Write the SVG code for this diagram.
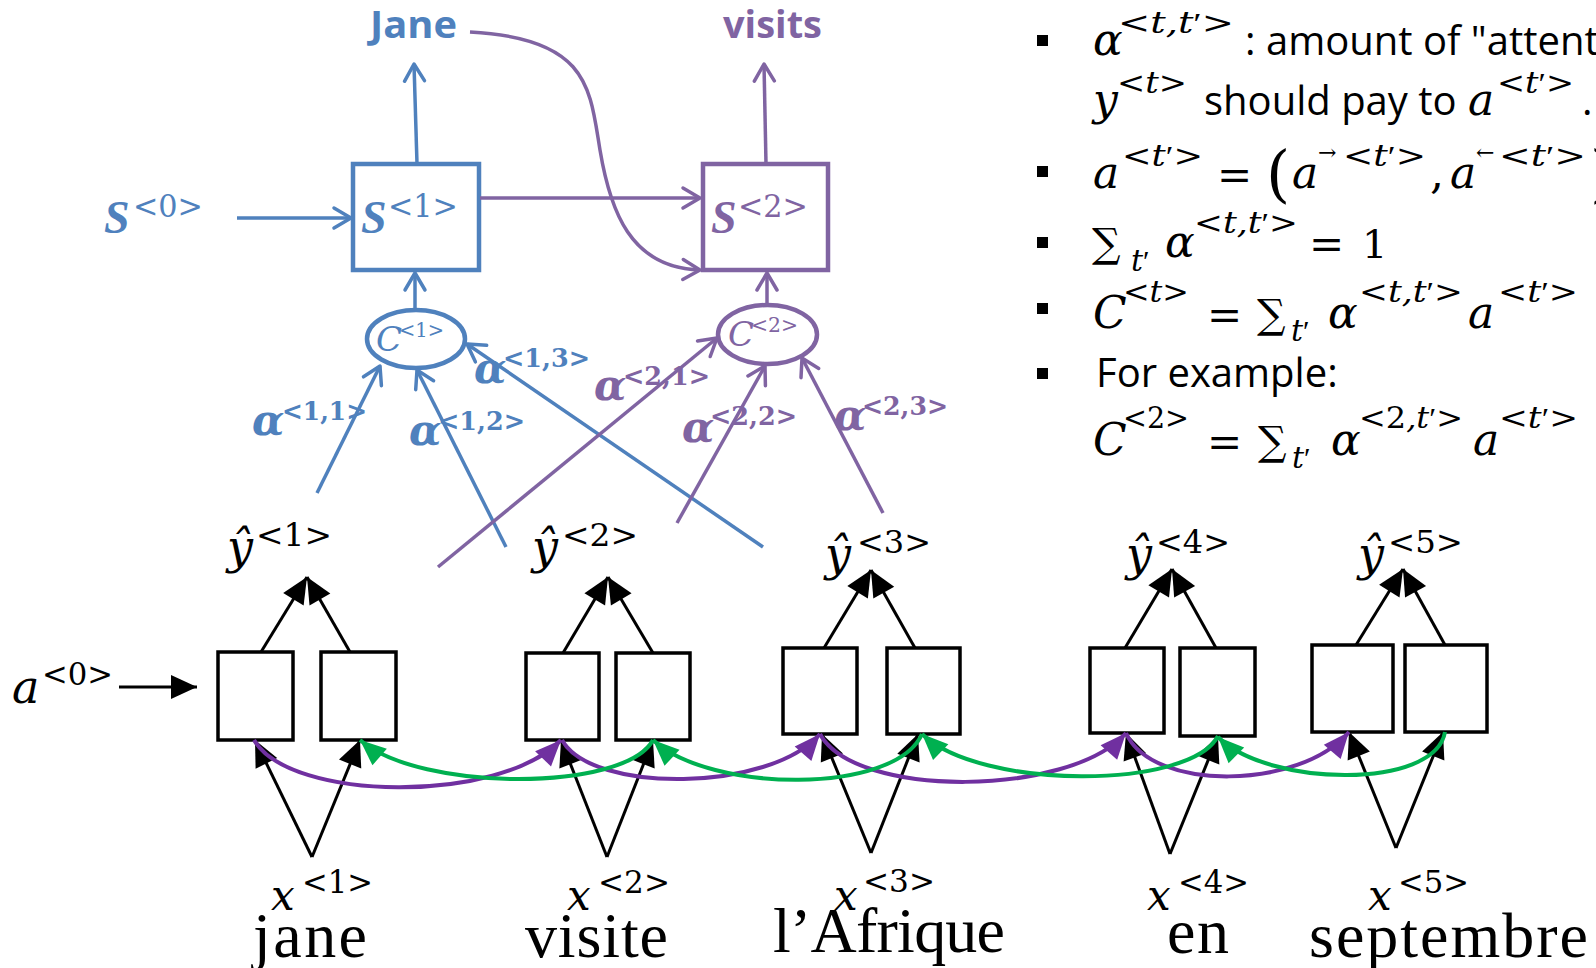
<svg xmlns="http://www.w3.org/2000/svg" width="1596" height="968" viewBox="0 0 1596 968">
  <style>
    .mi{font-family:"DejaVu Serif",serif;font-style:italic}
    .mr{font-family:"DejaVu Serif",serif}
    .mb{font-family:"DejaVu Serif",serif;font-weight:bold}
    .sym{font-family:"Liberation Serif",serif;font-style:italic;font-weight:bold}
    .txt{font-family:"Open Sans",sans-serif;font-size:40px;fill:#000}
    .word{font-family:"Liberation Serif",serif;font-size:64px;fill:#000}
    .pr{font-family:"Liberation Serif",serif;font-style:normal}
    .blue{fill:#4F81BD}
    .violet{fill:#8064A2}
    .cell{fill:#fff;stroke:#000;stroke-width:3.5}
    .bl{stroke:#4F81BD;fill:none;stroke-width:3.5}
    .pl{stroke:#8064A2;fill:none;stroke-width:3.5}
    .k{stroke:#000;fill:none;stroke-width:3}
    .fw{stroke:#7030A0;fill:none;stroke-width:4}
    .bw{stroke:#00B050;fill:none;stroke-width:4}
  </style>
  <defs>
    <marker id="chevB" markerUnits="userSpaceOnUse" viewBox="-21 -13 25 26" markerWidth="25" markerHeight="26" refX="0" refY="0" orient="auto" overflow="visible">
      <path d="M-17,-10 L0,0 L-17,10" fill="none" stroke="#4F81BD" stroke-width="3.5" stroke-linecap="round" stroke-linejoin="round"/>
    </marker>
    <marker id="chevP" markerUnits="userSpaceOnUse" viewBox="-21 -13 25 26" markerWidth="25" markerHeight="26" refX="0" refY="0" orient="auto" overflow="visible">
      <path d="M-17,-10 L0,0 L-17,10" fill="none" stroke="#8064A2" stroke-width="3.5" stroke-linecap="round" stroke-linejoin="round"/>
    </marker>
    <marker id="triK" markerUnits="userSpaceOnUse" viewBox="-28 -14 30 28" markerWidth="30" markerHeight="28" refX="0" refY="0" orient="auto" overflow="visible">
      <path d="M-26,-12 L0,0 L-26,12 z" fill="#000"/>
    </marker>
    <marker id="triP" markerUnits="userSpaceOnUse" viewBox="-28 -14 30 28" markerWidth="30" markerHeight="28" refX="0" refY="0" orient="auto" overflow="visible">
      <path d="M-26,-11 L0,0 L-26,11 z" fill="#7030A0"/>
    </marker>
    <marker id="triG" markerUnits="userSpaceOnUse" viewBox="-28 -14 30 28" markerWidth="30" markerHeight="28" refX="0" refY="0" orient="auto" overflow="visible">
      <path d="M-26,-11 L0,0 L-26,11 z" fill="#00B050"/>
    </marker>
  </defs>
  <rect width="1596" height="968" fill="#fff"/>

  <!-- bidirectional encoder cells -->
  <g id="pair1"><rect class="cell" x="218" y="652" width="75" height="88"/><rect class="cell" x="321" y="652" width="75" height="88"/></g>
  <g id="pair2"><rect class="cell" x="526" y="653" width="73" height="87"/><rect class="cell" x="616" y="653" width="74" height="87"/></g>
  <g id="pair3"><rect class="cell" x="783" y="648" width="74" height="86"/><rect class="cell" x="887" y="648" width="73" height="86"/></g>
  <g id="pair4"><rect class="cell" x="1090" y="648" width="74" height="85"/><rect class="cell" x="1180" y="648" width="75" height="88"/></g>
  <g id="pair5"><rect class="cell" x="1312" y="645" width="81" height="87"/><rect class="cell" x="1405" y="645" width="82" height="87"/></g>

  <!-- decoder states and context nodes -->
  <g id="s1"><rect x="353" y="164" width="126" height="106" fill="#fff" stroke="#4F81BD" stroke-width="4.5"/>
    <text class="sym blue" x="361" y="233" font-size="46">S</text><text class="mr blue" x="388" y="217" font-size="31" textLength="70" lengthAdjust="spacingAndGlyphs">&lt;1&gt;</text></g>
  <g id="s2"><rect x="703" y="164" width="125" height="106" fill="#fff" stroke="#8064A2" stroke-width="4.5"/>
    <text class="sym violet" x="711" y="233" font-size="46">S</text><text class="mr violet" x="738" y="217" font-size="31" textLength="70" lengthAdjust="spacingAndGlyphs">&lt;2&gt;</text></g>
  <g id="c1"><ellipse cx="416" cy="339" rx="49" ry="29" fill="#fff" stroke="#4F81BD" stroke-width="4.5"/>
    <text class="mi blue" x="376" y="351" font-size="34">C</text><text class="mr blue" x="399" y="337" font-size="20" textLength="45" lengthAdjust="spacingAndGlyphs">&lt;1&gt;</text></g>
  <g id="c2"><ellipse cx="767.5" cy="334.5" rx="49.5" ry="29.5" fill="#fff" stroke="#8064A2" stroke-width="4.5"/>
    <text class="mi violet" x="728" y="346" font-size="34">C</text><text class="mr violet" x="751" y="332" font-size="20" textLength="47" lengthAdjust="spacingAndGlyphs">&lt;2&gt;</text></g>

  <g id="connectors">
    <!-- attention side -->
    <line class="bl" x1="237" y1="218" x2="351" y2="218" marker-end="url(#chevB)"/>
    <line class="bl" x1="417" y1="164" x2="414" y2="64" marker-end="url(#chevB)"/>
    <line class="bl" x1="415" y1="310" x2="415" y2="273" marker-end="url(#chevB)"/>
    <line class="bl" x1="317" y1="493" x2="380" y2="366" marker-end="url(#chevB)"/>
    <line class="bl" x1="506" y1="547" x2="417" y2="370" marker-end="url(#chevB)"/>
    <line class="bl" x1="763" y1="547" x2="467" y2="344" marker-end="url(#chevB)"/>
    <line class="pl" x1="480" y1="198" x2="700" y2="198" marker-end="url(#chevP)"/>
    <path class="pl" d="M470,32 C590,38 590,90 600,150 S630,268 700,270" marker-end="url(#chevP)"/>
    <line class="pl" x1="766" y1="164" x2="764" y2="64" marker-end="url(#chevP)"/>
    <line class="pl" x1="767" y1="305" x2="767" y2="273" marker-end="url(#chevP)"/>
    <line class="pl" x1="438" y1="567" x2="717" y2="338" marker-end="url(#chevP)"/>
    <line class="pl" x1="677" y1="523" x2="765" y2="366" marker-end="url(#chevP)"/>
    <line class="pl" x1="883" y1="513" x2="802" y2="358" marker-end="url(#chevP)"/>
    <!-- encoder -->
    <line class="k" x1="119" y1="687" x2="197" y2="687" marker-end="url(#triK)"/>
    <line class="k" x1="261" y1="652" x2="307" y2="577" marker-end="url(#triK)"/>
    <line class="k" x1="350" y1="652" x2="307" y2="577" marker-end="url(#triK)"/>
    <line class="k" x1="312" y1="857" x2="255" y2="740" marker-end="url(#triK)"/>
    <line class="k" x1="312" y1="857" x2="360" y2="740" marker-end="url(#triK)"/>
    <line class="k" x1="563" y1="653" x2="608" y2="577" marker-end="url(#triK)"/>
    <line class="k" x1="653" y1="653" x2="608" y2="577" marker-end="url(#triK)"/>
    <line class="k" x1="607" y1="857" x2="561" y2="740" marker-end="url(#triK)"/>
    <line class="k" x1="607" y1="857" x2="653" y2="740" marker-end="url(#triK)"/>
    <line class="k" x1="824" y1="648" x2="871" y2="570" marker-end="url(#triK)"/>
    <line class="k" x1="915" y1="648" x2="871" y2="570" marker-end="url(#triK)"/>
    <line class="k" x1="871" y1="853" x2="822" y2="734" marker-end="url(#triK)"/>
    <line class="k" x1="871" y1="853" x2="918" y2="734" marker-end="url(#triK)"/>
    <line class="k" x1="1125" y1="648" x2="1172" y2="569" marker-end="url(#triK)"/>
    <line class="k" x1="1216" y1="648" x2="1172" y2="569" marker-end="url(#triK)"/>
    <line class="k" x1="1170" y1="854" x2="1126" y2="733" marker-end="url(#triK)"/>
    <line class="k" x1="1170" y1="854" x2="1218" y2="736" marker-end="url(#triK)"/>
    <line class="k" x1="1356" y1="645" x2="1403" y2="569" marker-end="url(#triK)"/>
    <line class="k" x1="1445" y1="645" x2="1403" y2="569" marker-end="url(#triK)"/>
    <line class="k" x1="1396" y1="848" x2="1349" y2="732" marker-end="url(#triK)"/>
    <line class="k" x1="1396" y1="848" x2="1443" y2="732" marker-end="url(#triK)"/>
    <!-- forward recurrence -->
    <path class="fw" d="M254,740 C290,802 500,804 561,740" marker-end="url(#triP)"/>
    <path class="fw" d="M562,740 C592,794 770,792 820,734" marker-end="url(#triP)"/>
    <path class="fw" d="M820,734 C855,799 1070,797 1126,733" marker-end="url(#triP)"/>
    <path class="fw" d="M1126,733 C1152,792 1300,790 1349,732" marker-end="url(#triP)"/>
    <!-- backward recurrence -->
    <path class="bw" d="M1445,732 C1435,790 1268,787 1218,737" marker-end="url(#triG)"/>
    <path class="bw" d="M1218,736 C1190,790 980,790 922,734" marker-end="url(#triG)"/>
    <path class="bw" d="M922,734 C895,795 710,793 653,740" marker-end="url(#triG)"/>
    <path class="bw" d="M653,740 C625,792 420,792 360,740" marker-end="url(#triG)"/>
  </g>

  <!-- output words -->
  <g id="out1"><text x="370" y="38" font-family="'Open Sans',sans-serif" font-weight="700" font-size="38" fill="#4F81BD" textLength="87" lengthAdjust="spacingAndGlyphs">Jane</text></g>
  <g id="out2"><text x="723" y="38" font-family="'Open Sans',sans-serif" font-weight="700" font-size="38" fill="#8064A2" textLength="99" lengthAdjust="spacingAndGlyphs">visits</text></g>
  <g id="s0"><text class="sym blue" x="104" y="233" font-size="46">S</text><text class="mr blue" x="133" y="217" font-size="31" textLength="70" lengthAdjust="spacingAndGlyphs">&lt;0&gt;</text></g>

  <!-- attention weights -->
  <g id="w11"><text class="mi blue" font-weight="bold" x="252" y="435" font-size="42">α</text><text class="mb blue" x="282" y="420" font-size="26" textLength="85" lengthAdjust="spacingAndGlyphs">&lt;1,1&gt;</text></g>
  <g id="w12"><text class="mi blue" font-weight="bold" x="409" y="445" font-size="42">α</text><text class="mb blue" x="438" y="430" font-size="26" textLength="87" lengthAdjust="spacingAndGlyphs">&lt;1,2&gt;</text></g>
  <g id="w13"><text class="mi blue" font-weight="bold" x="474" y="383" font-size="42">α</text><text class="mb blue" x="503" y="367" font-size="26" textLength="87" lengthAdjust="spacingAndGlyphs">&lt;1,3&gt;</text></g>
  <g id="w21"><text class="mi violet" font-weight="bold" x="594" y="400" font-size="42">α</text><text class="mb violet" x="623" y="385" font-size="26" textLength="87" lengthAdjust="spacingAndGlyphs">&lt;2,1&gt;</text></g>
  <g id="w22"><text class="mi violet" font-weight="bold" x="682" y="442" font-size="42">α</text><text class="mb violet" x="710" y="425" font-size="26" textLength="87" lengthAdjust="spacingAndGlyphs">&lt;2,2&gt;</text></g>
  <g id="w23"><text class="mi violet" font-weight="bold" x="834" y="430" font-size="42">α</text><text class="mb violet" x="862" y="415" font-size="26" textLength="86" lengthAdjust="spacingAndGlyphs">&lt;2,3&gt;</text></g>

  <!-- encoder labels -->
  <g id="a0"><text class="mi" x="12" y="703" font-size="46">a</text><text class="mr" x="42" y="685" font-size="31" textLength="71" lengthAdjust="spacingAndGlyphs">&lt;0&gt;</text></g>
  <g id="yh1"><text class="mi" x="227" y="563" font-size="46">ŷ</text><text class="mr" x="256" y="546" font-size="31" textLength="76" lengthAdjust="spacingAndGlyphs">&lt;1&gt;</text></g>
  <g id="yh2"><text class="mi" x="532" y="563" font-size="46">ŷ</text><text class="mr" x="562" y="546" font-size="31" textLength="76" lengthAdjust="spacingAndGlyphs">&lt;2&gt;</text></g>
  <g id="yh3"><text class="mi" x="825" y="570" font-size="46">ŷ</text><text class="mr" x="857" y="553" font-size="31" textLength="74" lengthAdjust="spacingAndGlyphs">&lt;3&gt;</text></g>
  <g id="yh4"><text class="mi" x="1126" y="570" font-size="46">ŷ</text><text class="mr" x="1156" y="553" font-size="31" textLength="74" lengthAdjust="spacingAndGlyphs">&lt;4&gt;</text></g>
  <g id="yh5"><text class="mi" x="1358" y="570" font-size="46">ŷ</text><text class="mr" x="1388" y="553" font-size="31" textLength="75" lengthAdjust="spacingAndGlyphs">&lt;5&gt;</text></g>
  <g id="x1"><text class="mi" x="271" y="910" font-size="42">x</text><text class="mr" x="302" y="893" font-size="31" textLength="71" lengthAdjust="spacingAndGlyphs">&lt;1&gt;</text><text class="word" x="253" y="957" textLength="114">jane</text></g>
  <g id="x2"><text class="mi" x="567" y="910" font-size="42">x</text><text class="mr" x="598" y="893" font-size="31" textLength="72" lengthAdjust="spacingAndGlyphs">&lt;2&gt;</text><text class="word" x="525" y="957" textLength="143">visite</text></g>
  <g id="x3"><text class="mi" x="834" y="910" font-size="42">x</text><text class="mr" x="863" y="892" font-size="31" textLength="72" lengthAdjust="spacingAndGlyphs">&lt;3&gt;</text><text class="word" x="773" y="952" textLength="232">l’Afrique</text></g>
  <g id="x4"><text class="mi" x="1147" y="910" font-size="42">x</text><text class="mr" x="1178" y="893" font-size="31" textLength="71" lengthAdjust="spacingAndGlyphs">&lt;4&gt;</text><text class="word" x="1167" y="953" textLength="62">en</text></g>
  <g id="x5"><text class="mi" x="1368" y="910" font-size="42">x</text><text class="mr" x="1398" y="893" font-size="31" textLength="71" lengthAdjust="spacingAndGlyphs">&lt;5&gt;</text><text class="word" x="1309" y="957" textLength="279">septembre</text></g>

  <!-- notes -->
  <g id="notes">
    <rect x="1037" y="35" width="11" height="11"/>
    <rect x="1037" y="166" width="11" height="11"/>
    <rect x="1037" y="237" width="11" height="11"/>
    <rect x="1037" y="303" width="11" height="11"/>
    <rect x="1037" y="368" width="11" height="11"/>

    <text class="mi" x="1093" y="55" font-size="44">α</text>
    <text class="mi" x="1118" y="33" font-size="30" textLength="116" lengthAdjust="spacingAndGlyphs">&lt;t,t<tspan class="pr">′</tspan>&gt;</text>
    <text class="txt" x="1245" y="55">: amount of "attention"</text>

    <text class="mi" x="1093" y="115" font-size="44">y</text>
    <text class="mi" x="1117" y="93" font-size="30" textLength="70" lengthAdjust="spacingAndGlyphs">&lt;t&gt;</text>
    <text class="txt" x="1204" y="115">should pay to</text>
    <text class="mi" x="1468" y="115" font-size="44">a</text>
    <text class="mi" x="1497" y="93" font-size="30" textLength="77" lengthAdjust="spacingAndGlyphs">&lt;t<tspan class="pr">′</tspan>&gt;</text>
    <text class="txt" x="1582" y="115">.</text>

    <text class="mi" x="1093" y="188" font-size="44">a</text>
    <text class="mi" x="1122" y="166" font-size="30" textLength="81" lengthAdjust="spacingAndGlyphs">&lt;t<tspan class="pr">′</tspan>&gt;</text>
    <text class="mr" x="1217" y="190" font-size="42">=</text>
    <text class="mr" x="1266" y="195" font-size="62">(</text>
    <text class="mi" x="1292" y="188" font-size="44">a</text>
    <text class="mr" x="1318" y="160" font-size="22">→</text>
    <text class="mi" x="1343" y="166" font-size="30" textLength="83" lengthAdjust="spacingAndGlyphs">&lt;t<tspan class="pr">′</tspan>&gt;</text>
    <text class="mr" x="1430" y="188" font-size="44">,</text>
    <text class="mi" x="1450" y="188" font-size="44">a</text>
    <text class="mr" x="1476" y="160" font-size="22">←</text>
    <text class="mi" x="1499" y="166" font-size="30" textLength="87" lengthAdjust="spacingAndGlyphs">&lt;t<tspan class="pr">′</tspan>&gt;</text>
    <text class="mr" x="1590" y="195" font-size="62">)</text>

    <text class="mr" x="1092" y="257" font-size="40">∑</text>
    <text class="mi" x="1131" y="271" font-size="30">t<tspan class="pr">′</tspan></text>
    <text class="mi" x="1165" y="257" font-size="44">α</text>
    <text class="mi" x="1194" y="233" font-size="30" textLength="104" lengthAdjust="spacingAndGlyphs">&lt;t,t<tspan class="pr">′</tspan>&gt;</text>
    <text class="mr" x="1309" y="259" font-size="42">=</text>
    <text class="mr" x="1362" y="258" font-size="40">1</text>

    <text class="mi" x="1093" y="328" font-size="44">C</text>
    <text class="mi" x="1123" y="302" font-size="30" textLength="66" lengthAdjust="spacingAndGlyphs">&lt;t&gt;</text>
    <text class="mr" x="1207" y="330" font-size="42">=</text>
    <text class="mr" x="1257" y="328" font-size="40">∑</text>
    <text class="mi" x="1291" y="341" font-size="30">t<tspan class="pr">′</tspan></text>
    <text class="mi" x="1328" y="328" font-size="44">α</text>
    <text class="mi" x="1359" y="302" font-size="30" textLength="104" lengthAdjust="spacingAndGlyphs">&lt;t,t<tspan class="pr">′</tspan>&gt;</text>
    <text class="mi" x="1468" y="328" font-size="44">a</text>
    <text class="mi" x="1498" y="302" font-size="30" textLength="80" lengthAdjust="spacingAndGlyphs">&lt;t<tspan class="pr">′</tspan>&gt;</text>

    <text class="txt" x="1096" y="387">For example:</text>

    <text class="mi" x="1093" y="455" font-size="44">C</text>
    <text class="mr" x="1123" y="428" font-size="30" textLength="66" lengthAdjust="spacingAndGlyphs">&lt;2&gt;</text>
    <text class="mr" x="1207" y="457" font-size="42">=</text>
    <text class="mr" x="1258" y="455" font-size="40">∑</text>
    <text class="mi" x="1292" y="468" font-size="30">t<tspan class="pr">′</tspan></text>
    <text class="mi" x="1331" y="455" font-size="44">α</text>
    <text class="mi" x="1359" y="428" font-size="30" textLength="104" lengthAdjust="spacingAndGlyphs">&lt;<tspan class="mr" font-style="normal">2</tspan>,t<tspan class="pr">′</tspan>&gt;</text>
    <text class="mi" x="1473" y="455" font-size="44">a</text>
    <text class="mi" x="1499" y="428" font-size="30" textLength="79" lengthAdjust="spacingAndGlyphs">&lt;t<tspan class="pr">′</tspan>&gt;</text>
  </g>
</svg>
